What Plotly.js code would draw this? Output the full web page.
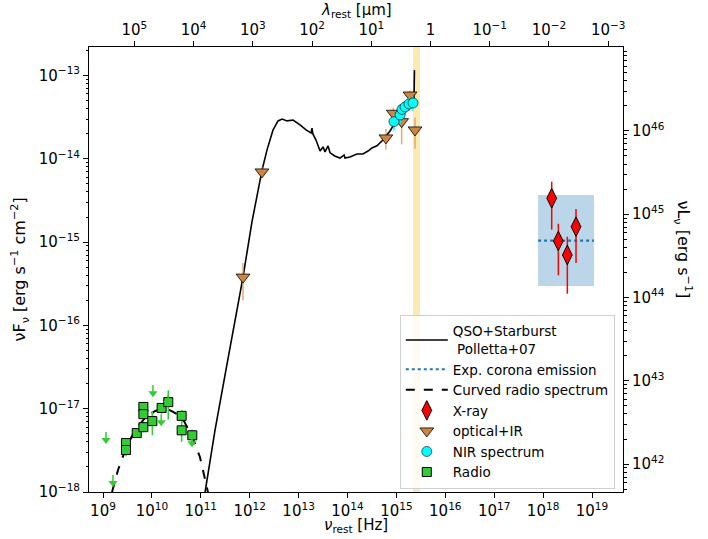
<!DOCTYPE html>
<html>
<head>
<meta charset="utf-8">
<script src="https://cdn.plot.ly/plotly-3.0.1.min.js"></script>
<style>
  html, body { margin: 0; padding: 0; background: #ffffff; }
  #sed { width: 708px; height: 539px; }
</style>
</head>
<body>
<div id="sed"></div>
<script>
// ---- QSO+Starburst template (Polletta+07), rest-frame nu [Hz] vs nuFnu [erg/s/cm2]
const tmplNu = [1.11e11, 1.95e11, 3.27e11, 5.0e11, 7.3e11, 1.11e12, 1.79e12, 2.26e12, 3.0e12, 3.8e12,
                4.6e12, 5.8e12, 7.7e12, 1.07e13, 1.42e13, 1.8e13, 1.88e13, 1.95e13, 2.27e13, 2.75e13,
                3.16e13, 3.47e13, 4.0e13, 4.4e13, 5.5e13, 7.0e13, 8.5e13, 8.9e13, 1.12e14, 1.56e14,
                2.07e14, 2.63e14, 3.16e14, 4.0e14, 5.3e14, 7.4e14, 1.03e15, 1.36e15, 1.73e15, 2.09e15,
                2.29e15, 2.34e15];
const tmplF  = [7.0e-19, 5.5e-18, 2.92e-17, 1.16e-16, 3.8e-16, 1.74e-15, 7.3e-15, 1.28e-14, 2.22e-14, 2.85e-14,
                3.0e-14, 2.85e-14, 2.92e-14, 2.55e-14, 2.22e-14, 2.04e-14, 2.34e-14, 2.0e-14, 1.68e-14, 1.24e-14,
                1.39e-14, 1.21e-14, 1.43e-14, 1.18e-14, 1.08e-14, 1.02e-14, 1.11e-14, 1.02e-14, 1.05e-14, 1.14e-14,
                1.14e-14, 1.24e-14, 1.35e-14, 1.43e-14, 1.68e-14, 2.16e-14, 3.0e-14, 3.86e-14, 4.55e-14, 5.08e-14,
                5.37e-14, 1.16e-13];

// ---- curved radio spectrum model
const radCurveNu = [1.53e9, 2.03e9, 2.95e9, 4.51e9, 7.2e9, 1.16e10, 1.69e10, 2.34e10, 3.26e10, 4.53e10,
                    6.6e10, 9.6e10, 1.34e11, 1.47e11];
const radCurveF  = [1.0e-18, 1.84e-18, 3.37e-18, 5.5e-18, 7.7e-18, 9.4e-18, 9.9e-18, 9.6e-18, 8.6e-18, 7.1e-18,
                    4.7e-18, 2.63e-18, 1.12e-18, 8.7e-19];

// ---- expected corona emission and its uncertainty band
const coronaNu   = [7.9e17, 1.1e19];
const coronaF    = [1.04e-15, 1.04e-15];
const coronaBoxF = [2.97e-16, 3.67e-15];

// ---- rest-frame band marked in yellow
const bandNu = [2.19e15, 3.04e15];

// ---- X-ray
const xrNu  = [1.5e18, 2.05e18, 3.13e18, 4.71e18];
const xrF   = [3.36e-15, 1.03e-15, 7.0e-16, 1.53e-15];
const xrErr = [1.95e-15, 0.63e-15, 0.46e-15, 0.97e-15];

// ---- optical + IR photometry
const optNu  = [7.3e11, 1.78e12, 6.1e14, 8.65e14, 1.28e15, 1.9e15, 2.4e15];
const optF   = [3.8e-16, 6.95e-15, 1.78e-14, 3.52e-14, 2.79e-14, 5.83e-14, 2.22e-14];
const optErr = [1.8e-16, 1.0e-15, 0.5e-14, 0.6e-14, 1.3e-14, 0.8e-14, 0.9e-14];

// ---- NIR spectrum
const nirNu  = [8.93e14, 1.19e15, 1.3e15, 1.5e15, 1.81e15, 2.19e15];
const nirF   = [2.79e-14, 3.36e-14, 3.92e-14, 4.19e-14, 4.55e-14, 4.68e-14];
const nirErr = [0.6e-14, 0.7e-14, 0.7e-14, 0.8e-14, 0.8e-14, 0.9e-14];

// ---- radio detections
const radNu  = [2.95e9, 2.95e9, 4.9e9, 6.7e9, 6.7e9, 6.7e9, 1.02e10, 1.58e10, 2.16e10, 4.06e10, 4.06e10, 6.7e10];
const radF   = [3.87e-18, 3.19e-18, 5.1e-18, 1.05e-17, 8.6e-18, 6.0e-18, 7.1e-18, 1.02e-17, 1.2e-17, 8.2e-18, 5.5e-18, 4.8e-18];
const radErr = [0.5e-18, 0.5e-18, 0.6e-18, 1.5e-18, 1.0e-18, 0.8e-18, 2.3e-18, 1.5e-18, 4.6e-18, 1.4e-18, 1.5e-18, 0.8e-18];

// ---- radio upper limits
const ulNu = [1.15e9, 1.6e9, 1.05e10, 1.55e10, 2.14e10, 6.6e10];
const ulF  = [5.25e-18, 1.6e-18, 1.92e-17, 8.6e-18, 1.46e-17, 4.8e-18];

// ---- tick decades
const nuDecades  = [9, 10, 11, 12, 13, 14, 15, 16, 17, 18, 19];
const fDecades   = [-18, -17, -16, -15, -14, -13];
const lamDecades = [5, 4, 3, 2, 1, 0, -1, -2, -3];
const lDecades   = [42, 43, 44, 45, 46];

// axis ranges (log10)
const X_RANGE   = [8.7137, 19.634];
const Y_RANGE   = [-18, -12.658];
const LAM_RANGE = [5.767, -3.25];
const L_RANGE   = [41.665, 47.007];

const FONT = 'DejaVu Sans, Verdana, sans-serif';
const pLabel = p => p === 0 ? '1' : '10<sup>' + (p < 0 ? '\u2212' : '') + Math.abs(p) + '</sup>';
const minorVals = range => {
  const out = [];
  for (let d = Math.floor(range[0]) - 1; d <= Math.ceil(range[1]); d++)
    for (let k = 2; k <= 9; k++) out.push(k * Math.pow(10, d));
  return out;
};

const arrowTip = ulF.map(v => v * 0.8);

const traces = [
  { // yellow band
    x: [bandNu[0], bandNu[1], bandNu[1], bandNu[0], bandNu[0]],
    y: [1e-20, 1e-20, 1e-11, 1e-11, 1e-20],
    mode: 'lines', fill: 'toself', fillcolor: '#fcebb0',
    line: { width: 0 }, hoverinfo: 'skip', showlegend: false
  },
  { // corona uncertainty box
    x: [coronaNu[0], coronaNu[1], coronaNu[1], coronaNu[0], coronaNu[0]],
    y: [coronaBoxF[0], coronaBoxF[0], coronaBoxF[1], coronaBoxF[1], coronaBoxF[0]],
    mode: 'lines', fill: 'toself', fillcolor: 'rgba(31,119,180,0.3)',
    line: { width: 0 }, hoverinfo: 'skip', showlegend: false
  },
  {
    name: 'QSO+Starburst<br>\u00a0Polletta+07',
    x: tmplNu, y: tmplF, mode: 'lines',
    line: { color: 'black', width: 1.6 }
  },
  {
    name: 'Exp. corona emission',
    x: coronaNu, y: coronaF, mode: 'lines',
    line: { color: '#1f77b4', width: 2.2, dash: 'dot' }
  },
  {
    name: 'Curved radio spectrum',
    x: radCurveNu, y: radCurveF, mode: 'lines',
    line: { color: 'black', width: 2, dash: 'dash' }
  },
  {
    name: 'X-ray',
    x: xrNu, y: xrF, mode: 'markers',
    marker: { symbol: 'diamond-tall', size: 14, color: 'red', line: { color: 'black', width: 1 } },
    error_y: { type: 'data', array: xrErr, color: 'red', thickness: 1.5, width: 0 }
  },
  {
    name: 'optical+IR',
    x: optNu, y: optF, mode: 'markers',
    marker: { symbol: 'triangle-down', size: 12, color: '#cd853f', line: { color: 'black', width: 0.8 } },
    error_y: { type: 'data', array: optErr, color: 'rgba(222,150,80,0.8)', thickness: 1.5, width: 0 }
  },
  {
    name: 'NIR spectrum',
    x: nirNu, y: nirF, mode: 'markers',
    marker: { symbol: 'circle', size: 10, color: 'cyan', line: { color: 'black', width: 0.6 } },
    error_y: { type: 'data', array: nirErr, color: 'cyan', thickness: 1.5, width: 0 }
  },
  {
    name: 'Radio',
    x: radNu, y: radF, mode: 'markers',
    marker: { symbol: 'square', size: 9, color: '#32cd32', line: { color: 'black', width: 1 } },
    error_y: { type: 'data', array: radErr, color: '#32cd32', thickness: 1.5, width: 0 }
  },
  { // radio upper limits
    x: ulNu, y: arrowTip, mode: 'markers', showlegend: false,
    marker: { symbol: 'triangle-down', size: 8, color: '#32cd32' },
    error_y: { type: 'data', symmetric: false,
               array: ulF.map((v, i) => v - arrowTip[i]), arrayminus: ulF.map(() => 0),
               color: '#32cd32', thickness: 1.5, width: 0 }
  },
  { x: [], y: [], xaxis: 'x2', yaxis: 'y', showlegend: false, hoverinfo: 'skip' },
  { x: [], y: [], xaxis: 'x', yaxis: 'y2', showlegend: false, hoverinfo: 'skip' }
];

const axisBase = {
  type: 'log', showgrid: false, zeroline: false,
  showline: true, linecolor: 'black', linewidth: 1,
  ticks: 'outside', ticklen: 5, tickwidth: 1, tickcolor: 'black',
  tickfont: { family: FONT, size: 15, color: 'black' },
  tickmode: 'array', automargin: false
};

const layout = {
  width: 708, height: 539,
  margin: { l: 89, r: 85, t: 47, b: 47, pad: 0 },
  paper_bgcolor: 'white', plot_bgcolor: 'white',
  font: { family: FONT, size: 13, color: 'black' },
  showlegend: true,
  legend: {
    x: 0.582, y: 0.398, xanchor: 'left', yanchor: 'top',
    itemwidth: 42,
    bgcolor: 'rgba(255,255,255,0.8)', bordercolor: '#d0d0d0', borderwidth: 1,
    font: { family: FONT, size: 13.5, color: 'black' }
  },
  xaxis: Object.assign({}, axisBase, {
    range: X_RANGE,
    tickvals: nuDecades.map(p => Math.pow(10, p)),
    ticktext: nuDecades.map(pLabel)
  }),
  yaxis: Object.assign({}, axisBase, {
    range: Y_RANGE,
    tickvals: fDecades.map(p => Math.pow(10, p)),
    ticktext: fDecades.map(pLabel),
    minor: { tickmode: 'array', tickvals: minorVals(Y_RANGE), ticks: 'outside', ticklen: 2.5, tickcolor: 'black' }
  }),
  xaxis2: Object.assign({}, axisBase, {
    overlaying: 'x', side: 'top', anchor: 'y',
    range: LAM_RANGE,
    tickvals: lamDecades.map(p => Math.pow(10, p)),
    ticktext: lamDecades.map(pLabel)
  }),
  yaxis2: Object.assign({}, axisBase, {
    overlaying: 'y', side: 'right', anchor: 'x',
    range: L_RANGE,
    tickvals: lDecades.map(p => Math.pow(10, p)),
    ticktext: lDecades.map(pLabel),
    minor: { tickmode: 'array', tickvals: minorVals(L_RANGE), ticks: 'outside', ticklen: 2.5, tickcolor: 'black' }
  }),
  annotations: [
    { text: '<i>\u03bd</i><sub>rest</sub> [Hz]', xref: 'paper', yref: 'paper', x: 0.5, y: -0.0742,
      xanchor: 'center', yanchor: 'middle', showarrow: false, font: { family: FONT, size: 15 } },
    { text: '<i>\u03bb</i><sub>rest</sub> [\u03bcm]', xref: 'paper', yref: 'paper', x: 0.5, y: 1.081,
      xanchor: 'center', yanchor: 'middle', showarrow: false, font: { family: FONT, size: 15 } },
    { text: '\u03bdF<sub>\u03bd</sub> [erg s<sup>\u22121</sup> cm<sup>\u22122</sup>]', xref: 'paper', yref: 'paper',
      x: -0.1292, y: 0.5, textangle: -90, xanchor: 'center', yanchor: 'middle', showarrow: false,
      font: { family: FONT, size: 16 } },
    { text: '\u03bdL<sub>\u03bd</sub> [erg s<sup>\u22121</sup>]', xref: 'paper', yref: 'paper',
      x: 1.1124, y: 0.545, textangle: 90, xanchor: 'center', yanchor: 'middle', showarrow: false,
      font: { family: FONT, size: 16 } }
  ]
};

Plotly.newPlot('sed', traces, layout, { displayModeBar: false, staticPlot: true });
</script>
</body>
</html>
